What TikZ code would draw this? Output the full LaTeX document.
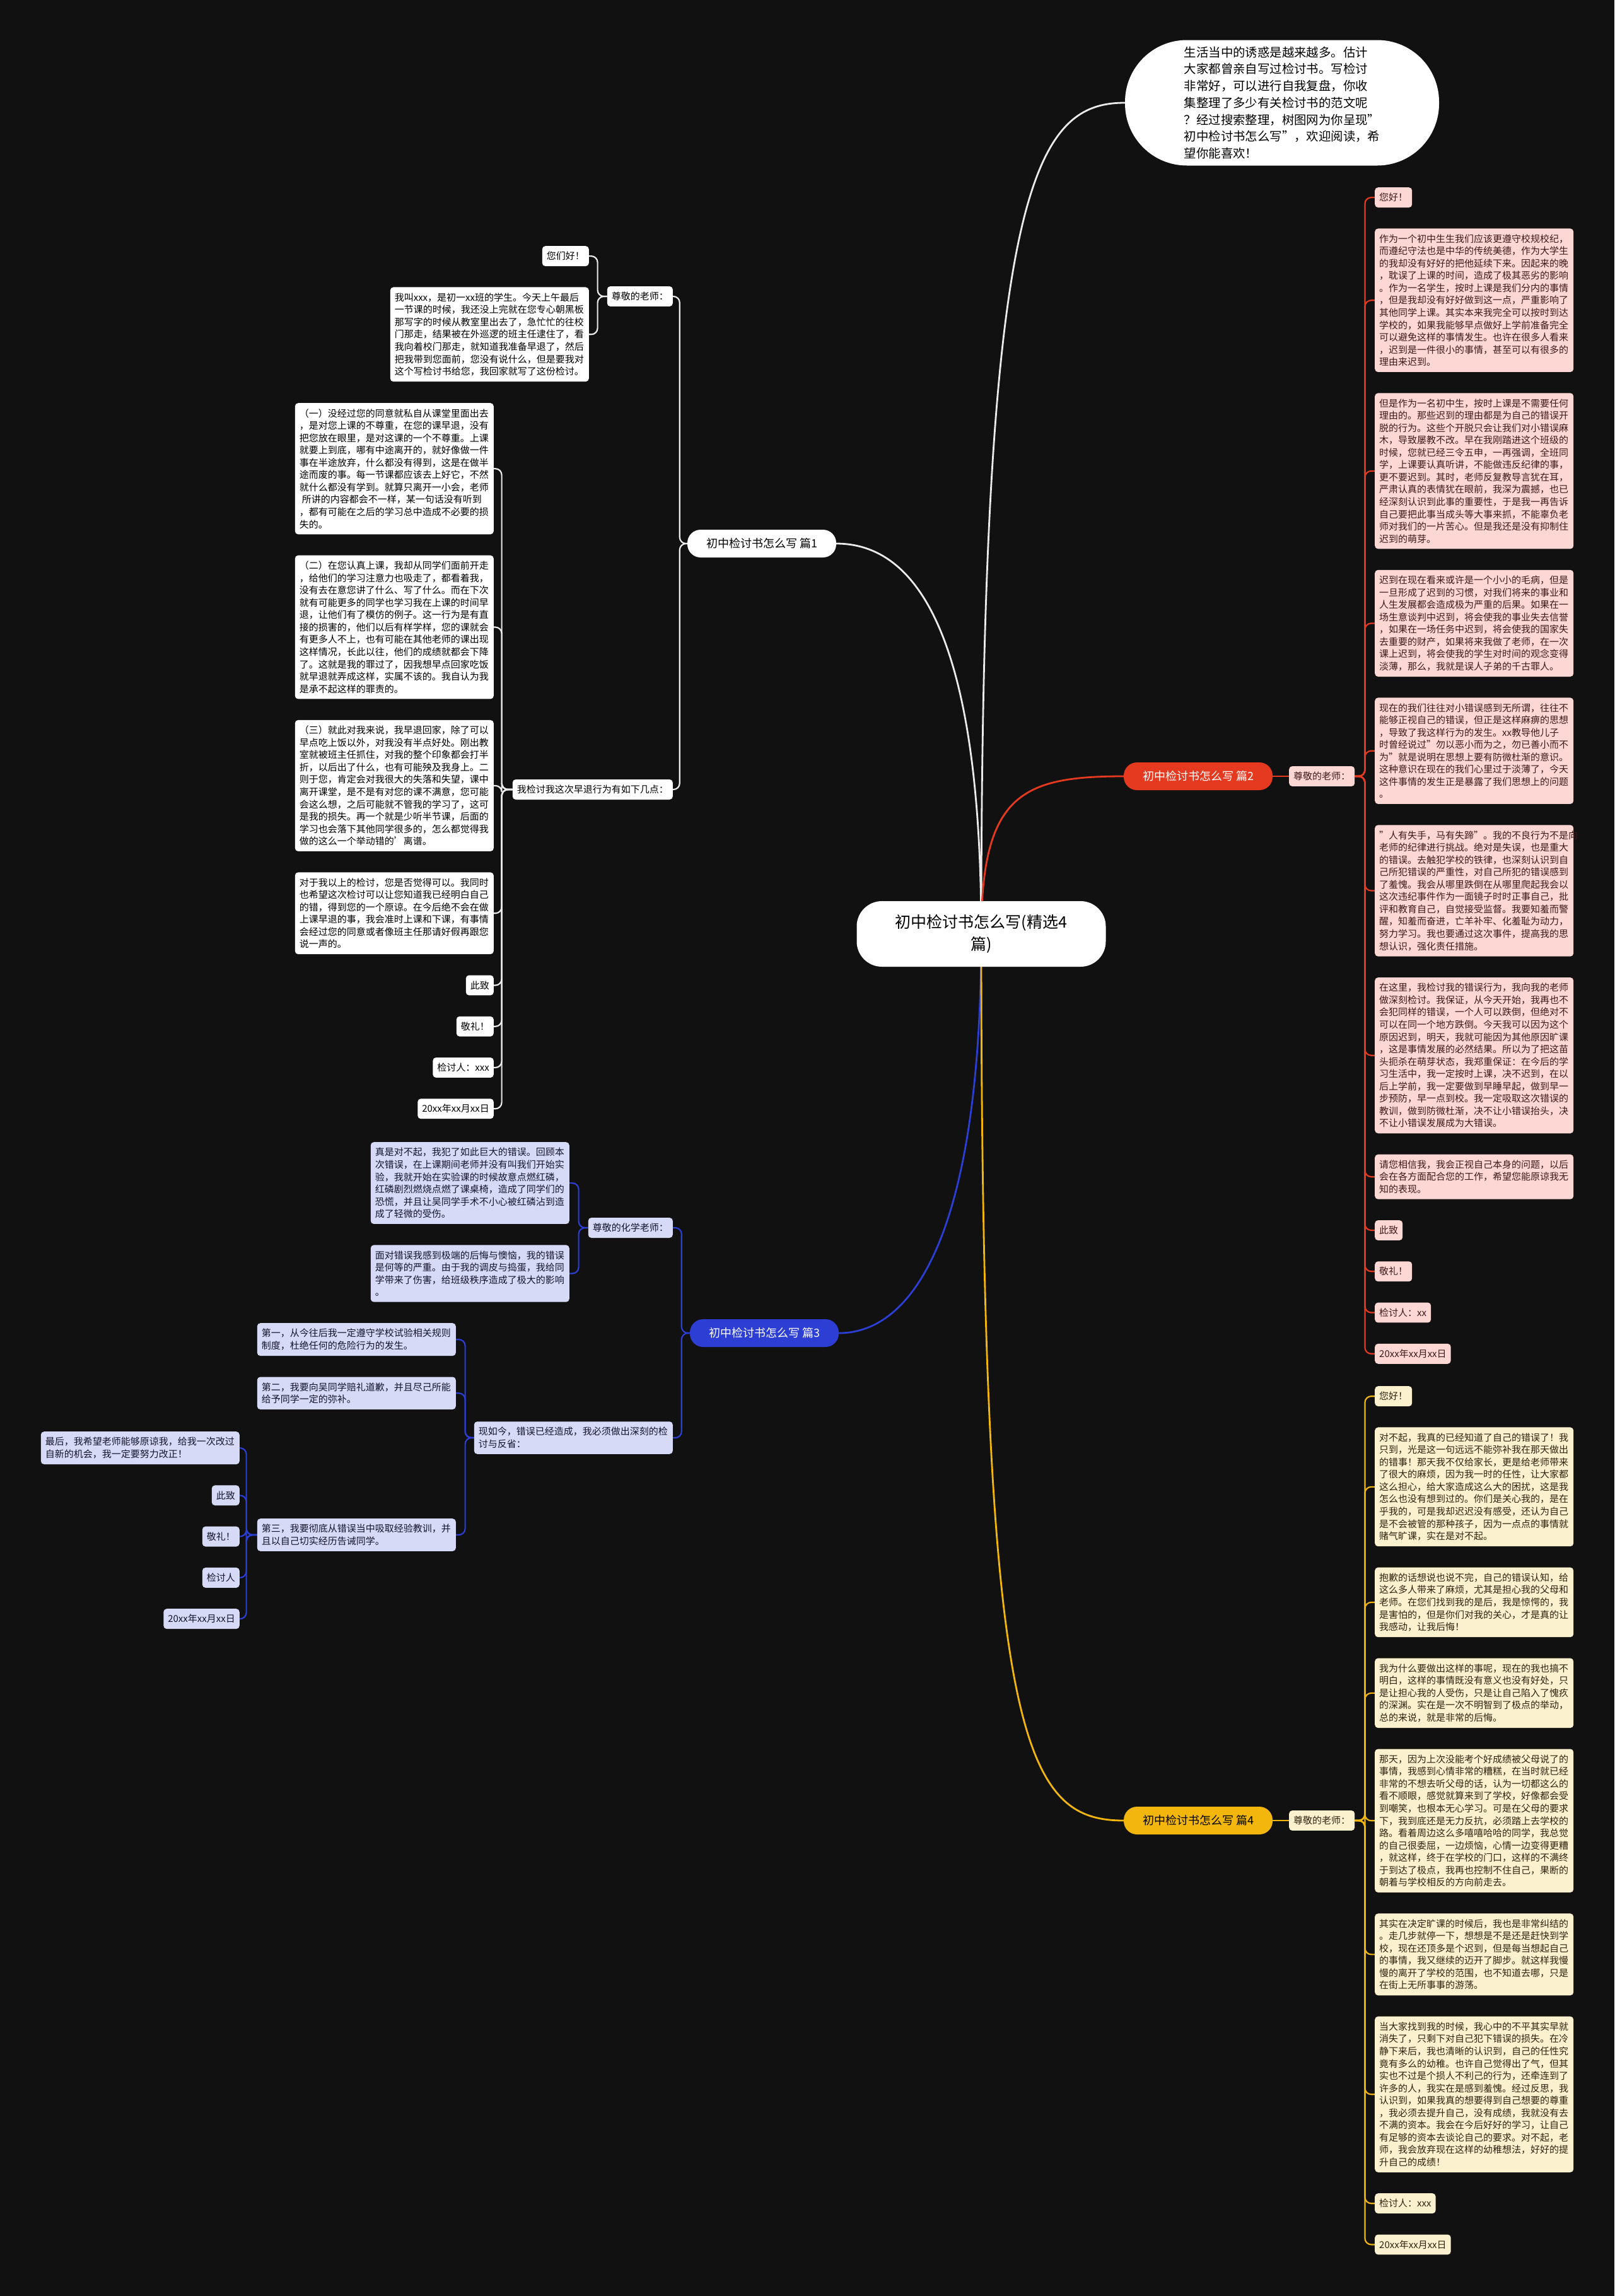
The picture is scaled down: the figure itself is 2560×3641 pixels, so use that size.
\documentclass[tikz,border=0pt]{standalone}
\usepackage{fontspec}
\setmainfont{Noto Sans CJK SC}
\usepackage{xcolor}
\usetikzlibrary{positioning,backgrounds}
\definecolor{bgdark}{RGB}{17,17,17}
\definecolor{redbr}{RGB}{230,58,32}
\definecolor{bluebr}{RGB}{44,62,212}
\definecolor{yelbr}{RGB}{242,182,12}
\definecolor{wirew}{RGB}{235,235,235}
\definecolor{pinkbg}{RGB}{252,215,211}
\definecolor{yelbg}{RGB}{252,241,206}
\definecolor{bluebg}{RGB}{214,218,246}
\definecolor{pinktx}{RGB}{60,25,25}
\definecolor{yeltx}{RGB}{45,35,15}
\definecolor{bluetx}{RGB}{20,20,45}
\newcommand{\leafsize}{\fontsize{15pt}{19.56pt}\selectfont}
\tikzset{
  leaf/.style  ={rectangle, rounded corners=5pt, inner xsep=7pt, inner ysep=9pt,
                 align=left, font=\leafsize},
  leafw/.style ={leaf, fill=white, text=black},
  leafp/.style ={leaf, fill=pinkbg, text=pinktx},
  leafy/.style ={leaf, fill=yelbg, text=yeltx},
  leafb/.style ={leaf, fill=bluebg, text=bluetx},
  wbox/.style  ={text width=301pt},
  topic/.style ={rectangle, rounded corners=21pt, minimum width=236pt, minimum height=44pt,
                 font=\fontsize{18pt}{22pt}\selectfont},
  hub/.style   ={rectangle, rounded corners=40pt, fill=white, text=black, minimum width=395pt,
                 minimum height=104pt, align=center, font=\fontsize{25pt}{35pt}\selectfont},
  intro/.style ={rectangle, rounded corners=98pt, fill=white, text=black, minimum width=498pt,
                 minimum height=199pt, align=left, font=\fontsize{19.4pt}{26.7pt}\selectfont},
  main/.style  ={line width=2.8pt},
  wire/.style  ={line width=2.2pt, rounded corners=10pt},
  stkl/.style  ={below=of #1.south west, anchor=north west},
  stkr/.style  ={below=of #1.south east, anchor=north east},
}

\begin{document}
\begin{tikzpicture}[x=1pt, y=-1pt, node distance=33pt]

\node[hub] (ctr) at (1556,1481) {初中检讨书怎么写(精选4\\篇)};
\node[intro] (intro) at (2033,163) {生活当中的诱惑是越来越多。估计\\大家都曾亲自写过检讨书。写检讨\\非常好，可以进行自我复盘，你收\\集整理了多少有关检讨书的范文呢\\？经过搜索整理，树图网为你呈现"\\初中检讨书怎么写"，欢迎阅读，希\\望你能喜欢！};

% topics
\node[topic, fill=white, text=black] (w0) at (1208,862) {初中检讨书怎么写 篇1};
\node[topic, fill=redbr, text=white] (r0) at (1900,1231) {初中检讨书怎么写 篇2};
\node[topic, fill=bluebr, text=white] (b0) at (1212,2114) {初中检讨书怎么写 篇3};
\node[topic, fill=yelbr, text=black] (y0) at (1900,2887) {初中检讨书怎么写 篇4};

% 篇1
\node[leafw, anchor=east] (wt) at (1067,470) {尊敬的老师：};
\node[leafw, anchor=north east] (wt1) at (934,390) {您们好！};
\node[leafw, wbox, stkr=wt1] (wt2) {我叫xxx，是初一xx班的学生。今天上午最后\\一节课的时候，我还没上完就在您专心朝黑板\\那写字的时候从教室里出去了，急忙忙的往校\\门那走，结果被在外巡逻的班主任逮住了，看\\我向着校门那走，就知道我准备早退了，然后\\把我带到您面前，您没有说什么，但是要我对\\这个写检讨书给您，我回家就写了这份检讨。};
\node[leafw, anchor=east] (wk) at (1067,1252) {我检讨我这次早退行为有如下几点：};
\node[leafw, wbox, anchor=north east] (wk1) at (783,639) {（一）没经过您的同意就私自从课堂里面出去\\，是对您上课的不尊重，在您的课早退，没有\\把您放在眼里，是对这课的一个不尊重。上课\\就要上到底，哪有中途离开的，就好像做一件\\事在半途放弃，什么都没有得到，这是在做半\\途而废的事。每一节课都应该去上好它，不然\\就什么都没有学到。就算只离开一小会，老师\\\hspace*{4pt}所讲的内容都会不一样，某一句话没有听到\\，都有可能在之后的学习总中造成不必要的损\\失的。};
\node[leafw, wbox, stkr=wk1] (wk2) {（二）在您认真上课，我却从同学们面前开走\\，给他们的学习注意力也吸走了，都看着我，\\没有去在意您讲了什么、写了什么。而在下次\\就有可能更多的同学也学习我在上课的时间早\\退，让他们有了模仿的例子。这一行为是有直\\接的损害的，他们以后有样学样，您的课就会\\有更多人不上，也有可能在其他老师的课出现\\这样情况，长此以往，他们的成绩就都会下降\\了。这就是我的罪过了，因我想早点回家吃饭\\就早退就弄成这样，实属不该的。我自认为我\\是承不起这样的罪责的。};
\node[leafw, wbox, stkr=wk2] (wk3) {（三）就此对我来说，我早退回家，除了可以\\早点吃上饭以外，对我没有半点好处。刚出教\\室就被班主任抓住，对我的整个印象都会打半\\折，以后出了什么，也有可能殃及我身上。二\\则于您，肯定会对我很大的失落和失望，课中\\离开课堂，是不是有对您的课不满意，您可能\\会这么想，之后可能就不管我的学习了，这可\\是我的损失。再一个就是少听半节课，后面的\\学习也会落下其他同学很多的，怎么都觉得我\\做的这么一个举动错的'离谱。};
\node[leafw, wbox, stkr=wk3] (wk4) {对于我以上的检讨，您是否觉得可以。我同时\\也希望这次检讨可以让您知道我已经明白自己\\的错，得到您的一个原谅。在今后绝不会在做\\上课早退的事，我会准时上课和下课，有事情\\会经过您的同意或者像班主任那请好假再跟您\\说一声的。};
\node[leafw, stkr=wk4] (wk5) {此致};
\node[leafw, stkr=wk5] (wk6) {敬礼！};
\node[leafw, stkr=wk6] (wk7) {检讨人：xxx};
\node[leafw, stkr=wk7] (wk8) {20xx年xx月xx日};

% 篇2
\node[leafp, anchor=west] (rt) at (2044,1231) {尊敬的老师：};
\node[leafp, anchor=north west] (r1) at (2180,297) {您好！};
\node[leafp, wbox, stkl=r1] (r2) {作为一个初中生生我们应该更遵守校规校纪，\\而遵纪守法也是中华的传统美德，作为大学生\\的我却没有好好的把他延续下来。因起来的晚\\，耽误了上课的时间，造成了极其恶劣的影响\\。作为一名学生，按时上课是我们分内的事情\\，但是我却没有好好做到这一点，严重影响了\\其他同学上课。其实本来我完全可以按时到达\\学校的，如果我能够早点做好上学前准备完全\\可以避免这样的事情发生。也许在很多人看来\\，迟到是一件很小的事情，甚至可以有很多的\\理由来迟到。};
\node[leafp, wbox, stkl=r2] (r3) {但是作为一名初中生，按时上课是不需要任何\\理由的。那些迟到的理由都是为自己的错误开\\脱的行为。这些个开脱只会让我们对小错误麻\\木，导致屡教不改。早在我刚踏进这个班级的\\时候，您就已经三令五申，一再强调，全班同\\学，上课要认真听讲，不能做违反纪律的事，\\更不要迟到。其时，老师反复教导言犹在耳，\\严肃认真的表情犹在眼前，我深为震撼，也已\\经深刻认识到此事的重要性，于是我一再告诉\\自己要把此事当成头等大事来抓，不能辜负老\\师对我们的一片苦心。但是我还是没有抑制住\\迟到的萌芽。};
\node[leafp, wbox, stkl=r3] (r4) {迟到在现在看来或许是一个小小的毛病，但是\\一旦形成了迟到的习惯，对我们将来的事业和\\人生发展都会造成极为严重的后果。如果在一\\场生意谈判中迟到，将会使我的事业失去信誉\\，如果在一场任务中迟到，将会使我的国家失\\去重要的财产，如果将来我做了老师，在一次\\课上迟到，将会使我的学生对时间的观念变得\\淡薄，那么，我就是误人子弟的千古罪人。};
\node[leafp, wbox, stkl=r4] (r5) {现在的我们往往对小错误感到无所谓，往往不\\能够正视自己的错误，但正是这样麻痹的思想\\，导致了我这样行为的发生。xx教导他儿子\\时曾经说过"勿以恶小而为之，勿已善小而不\\为"就是说明在思想上要有防微杜渐的意识。\\这种意识在现在的我们心里过于淡薄了，今天\\这件事情的发生正是暴露了我们思想上的问题\\。};
\node[leafp, wbox, stkl=r5] (r6) {"人有失手，马有失蹄"。我的不良行为不是向\\老师的纪律进行挑战。绝对是失误，也是重大\\的错误。去触犯学校的铁律，也深刻认识到自\\己所犯错误的严重性，对自己所犯的错误感到\\了羞愧。我会从哪里跌倒在从哪里爬起我会以\\这次违纪事件作为一面镜子时时正事自己，批\\评和教育自己，自觉接受监督。我要知羞而警\\醒，知羞而奋进，亡羊补牢、化羞耻为动力，\\努力学习。我也要通过这次事件，提高我的思\\想认识，强化责任措施。};
\node[leafp, wbox, stkl=r6] (r7) {在这里，我检讨我的错误行为，我向我的老师\\做深刻检讨。我保证，从今天开始，我再也不\\会犯同样的错误，一个人可以跌倒，但绝对不\\可以在同一个地方跌倒。今天我可以因为这个\\原因迟到，明天，我就可能因为其他原因旷课\\，这是事情发展的必然结果。所以为了把这苗\\头扼杀在萌芽状态，我郑重保证：在今后的学\\习生活中，我一定按时上课，决不迟到，在以\\后上学前，我一定要做到早睡早起，做到早一\\步预防，早一点到校。我一定吸取这次错误的\\教训，做到防微杜渐，决不让小错误抬头，决\\不让小错误发展成为大错误。};
\node[leafp, wbox, stkl=r7] (r8) {请您相信我，我会正视自己本身的问题，以后\\会在各方面配合您的工作，希望您能原谅我无\\知的表现。};
\node[leafp, stkl=r8] (r9) {此致};
\node[leafp, stkl=r9] (r10) {敬礼！};
\node[leafp, stkl=r10] (r11) {检讨人：xx};
\node[leafp, stkl=r11] (r12) {20xx年xx月xx日};

% 篇3
\node[leafb, anchor=east] (bt) at (1067,1947) {尊敬的化学老师：};
\node[leafb, wbox, anchor=north east] (bt1) at (903,1811) {真是对不起，我犯了如此巨大的错误。回顾本\\次错误，在上课期间老师并没有叫我们开始实\\验，我就开始在实验课的时候故意点燃红磷，\\红磷剧烈燃烧点燃了课桌椅，造成了同学们的\\恐慌，并且让吴同学手术不小心被红磷沾到造\\成了轻微的受伤。};
\node[leafb, wbox, stkr=bt1] (bt2) {面对错误我感到极端的后悔与懊恼，我的错误\\是何等的严重。由于我的调皮与捣蛋，我给同\\学带来了伤害，给班级秩序造成了极大的影响\\。};
\node[leafb, wbox, anchor=east] (bn) at (1067,2280) {现如今，错误已经造成，我必须做出深刻的检\\讨与反省：};
\node[leafb, wbox, anchor=north east] (bn1) at (723,2098) {第一，从今往后我一定遵守学校试验相关规则\\制度，杜绝任何的危险行为的发生。};
\node[leafb, wbox, stkr=bn1] (bn2) {第二，我要向吴同学赔礼道歉，并且尽己所能\\给予同学一定的弥补。};
\node[leafb, wbox, anchor=north east] (bn3) at (723,2408) {第三，我要彻底从错误当中吸取经验教训，并\\且以自己切实经历告诫同学。};
\node[leafb, wbox, anchor=north east] (bs1) at (380,2270) {最后，我希望老师能够原谅我，给我一次改过\\自新的机会，我一定要努力改正！};
\node[leafb, stkr=bs1] (bs2) {此致};
\node[leafb, stkr=bs2] (bs3) {敬礼！};
\node[leafb, stkr=bs3] (bs4) {检讨人};
\node[leafb, stkr=bs4] (bs5) {20xx年xx月xx日};

% 篇4
\node[leafy, anchor=west] (yt) at (2044,2887) {尊敬的老师：};
\node[leafy, anchor=north west] (y1) at (2180,2198) {您好！};
\node[leafy, wbox, stkl=y1] (y2) {对不起，我真的已经知道了自己的错误了！我\\只到，光是这一句远远不能弥补我在那天做出\\的错事！那天我不仅给家长，更是给老师带来\\了很大的麻烦，因为我一时的任性，让大家都\\这么担心，给大家造成这么大的困扰，这是我\\怎么也没有想到过的。你们是关心我的，是在\\乎我的，可是我却迟迟没有感受，还认为自己\\是不会被管的那种孩子，因为一点点的事情就\\赌气旷课，实在是对不起。};
\node[leafy, wbox, stkl=y2] (y3) {抱歉的话想说也说不完，自己的错误认知，给\\这么多人带来了麻烦，尤其是担心我的父母和\\老师。在您们找到我的是后，我是惊愕的，我\\是害怕的，但是你们对我的关心，才是真的让\\我感动，让我后悔！};
\node[leafy, wbox, stkl=y3] (y4) {我为什么要做出这样的事呢，现在的我也搞不\\明白，这样的事情既没有意义也没有好处，只\\是让担心我的人受伤，只是让自己陷入了愧疚\\的深渊。实在是一次不明智到了极点的举动，\\总的来说，就是非常的后悔。};
\node[leafy, wbox, stkl=y4] (y5) {那天，因为上次没能考个好成绩被父母说了的\\事情，我感到心情非常的糟糕，在当时就已经\\非常的不想去听父母的话，认为一切都这么的\\看不顺眼，感觉就算来到了学校，好像都会受\\到嘲笑，也根本无心学习。可是在父母的要求\\下，我到底还是无力反抗，必须踏上去学校的\\路。看着周边这么多嘻嘻哈哈的同学，我总觉\\的自己很委屈，一边烦恼，心情一边变得更糟\\，就这样，终于在学校的门口，这样的不满终\\于到达了极点，我再也控制不住自己，果断的\\朝着与学校相反的方向前走去。};
\node[leafy, wbox, stkl=y5] (y6) {其实在决定旷课的时候后，我也是非常纠结的\\。走几步就停一下，想想是不是还是赶快到学\\校，现在还顶多是个迟到，但是每当想起自己\\的事情，我又继续的迈开了脚步。就这样我慢\\慢的离开了学校的范围，也不知道去哪，只是\\在街上无所事事的游荡。};
\node[leafy, wbox, stkl=y6] (y7) {当大家找到我的时候，我心中的不平其实早就\\消失了，只剩下对自己犯下错误的损失。在冷\\静下来后，我也清晰的认识到，自己的任性究\\竟有多么的幼稚。也许自己觉得出了气，但其\\实也不过是个损人不利己的行为，还牵连到了\\许多的人，我实在是感到羞愧。经过反思，我\\认识到，如果我真的想要得到自己想要的尊重\\，我必须去提升自己，没有成绩，我就没有去\\不满的资本。我会在今后好好的学习，让自己\\有足够的资本去谈论自己的要求。对不起，老\\师，我会放弃现在这样的幼稚想法，好好的提\\升自己的成绩！};
\node[leafy, stkl=y7] (y8) {检讨人：xxx};
\node[leafy, stkl=y8] (y9) {20xx年xx月xx日};

\begin{scope}[on background layer]
\fill[bgdark] (0,0) rectangle (2560,3641);
% main curves
\draw[main, wirew] (ctr.center) .. controls (1556,300) and (1640,163) .. (intro.west);
\draw[main, wirew] (ctr.center) .. controls (1556,1000) and (1450,862) .. (w0.east);
\draw[main, redbr] (ctr.center) .. controls (1556,1260) and (1620,1231) .. (r0.west);
\draw[main, bluebr] (ctr.center) .. controls (1556,1950) and (1450,2114) .. (b0.east);
\draw[main, yelbr] (ctr.center) .. controls (1556,2750) and (1620,2887) .. (y0.west);
% 篇1
\draw[wire, wirew] (w0.west) -- ++(-12,0) |- (wt.east);
\draw[wire, wirew] (w0.west) -- ++(-12,0) |- (wk.east);
\draw[wire, wirew] (wt.west) -- ++(-15,0) |- (wt1.east);
\draw[wire, wirew] (wt.west) -- ++(-15,0) |- (wt2.east);
\draw[wire, wirew] (wk.west) -- ++(-17,0) |- (wk1.east);
\draw[wire, wirew] (wk.west) -- ++(-17,0) |- (wk2.east);
\draw[wire, wirew] (wk.west) -- ++(-17,0) |- (wk3.east);
\draw[wire, wirew] (wk.west) -- ++(-17,0) |- (wk4.east);
\draw[wire, wirew] (wk.west) -- ++(-17,0) |- (wk5.east);
\draw[wire, wirew] (wk.west) -- ++(-17,0) |- (wk6.east);
\draw[wire, wirew] (wk.west) -- ++(-17,0) |- (wk7.east);
\draw[wire, wirew] (wk.west) -- ++(-17,0) |- (wk8.east);
% 篇2
\draw[wire, redbr] (r0.east) -- (rt.west);
\draw[wire, redbr] (rt.east) -- ++(16,0) |- (r1.west);
\draw[wire, redbr] (rt.east) -- ++(16,0) |- (r2.west);
\draw[wire, redbr] (rt.east) -- ++(16,0) |- (r3.west);
\draw[wire, redbr] (rt.east) -- ++(16,0) |- (r4.west);
\draw[wire, redbr] (rt.east) -- ++(16,0) |- (r5.west);
\draw[wire, redbr] (rt.east) -- ++(16,0) |- (r6.west);
\draw[wire, redbr] (rt.east) -- ++(16,0) |- (r7.west);
\draw[wire, redbr] (rt.east) -- ++(16,0) |- (r8.west);
\draw[wire, redbr] (rt.east) -- ++(16,0) |- (r9.west);
\draw[wire, redbr] (rt.east) -- ++(16,0) |- (r10.west);
\draw[wire, redbr] (rt.east) -- ++(16,0) |- (r11.west);
\draw[wire, redbr] (rt.east) -- ++(16,0) |- (r12.west);
% 篇3
\draw[wire, bluebr] (b0.west) -- ++(-13,0) |- (bt.east);
\draw[wire, bluebr] (b0.west) -- ++(-13,0) |- (bn.east);
\draw[wire, bluebr] (bt.west) -- ++(-15,0) |- (bt1.east);
\draw[wire, bluebr] (bt.west) -- ++(-15,0) |- (bt2.east);
\draw[wire, bluebr] (bn.west) -- ++(-14,0) |- (bn1.east);
\draw[wire, bluebr] (bn.west) -- ++(-14,0) |- (bn2.east);
\draw[wire, bluebr] (bn.west) -- ++(-14,0) |- (bn3.east);
\draw[wire, bluebr] (bn3.west) -- ++(-17,0) |- (bs1.east);
\draw[wire, bluebr] (bn3.west) -- ++(-17,0) |- (bs2.east);
\draw[wire, bluebr] (bn3.west) -- ++(-17,0) |- (bs3.east);
\draw[wire, bluebr] (bn3.west) -- ++(-17,0) |- (bs4.east);
\draw[wire, bluebr] (bn3.west) -- ++(-17,0) |- (bs5.east);
% 篇4
\draw[wire, yelbr] (y0.east) -- (yt.west);
\draw[wire, yelbr] (yt.east) -- ++(16,0) |- (y1.west);
\draw[wire, yelbr] (yt.east) -- ++(16,0) |- (y2.west);
\draw[wire, yelbr] (yt.east) -- ++(16,0) |- (y3.west);
\draw[wire, yelbr] (yt.east) -- ++(16,0) |- (y4.west);
\draw[wire, yelbr] (yt.east) -- ++(16,0) |- (y5.west);
\draw[wire, yelbr] (yt.east) -- ++(16,0) |- (y6.west);
\draw[wire, yelbr] (yt.east) -- ++(16,0) |- (y7.west);
\draw[wire, yelbr] (yt.east) -- ++(16,0) |- (y8.west);
\draw[wire, yelbr] (yt.east) -- ++(16,0) |- (y9.west);
\end{scope}

\end{tikzpicture}
\end{document}
